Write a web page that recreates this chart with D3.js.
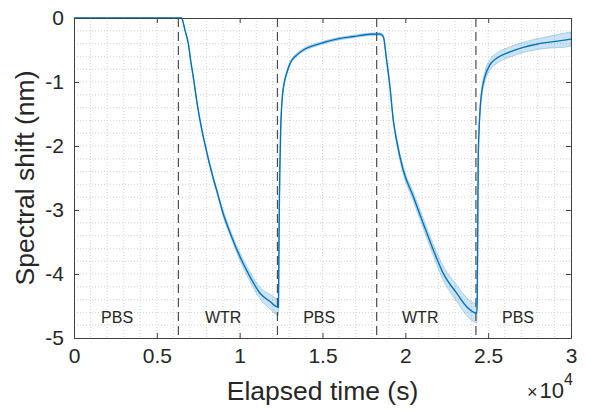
<!DOCTYPE html>
<html lang="en">
<head>
    <meta charset="UTF-8">
    <title>Spectral shift</title>
    <script src="https://d3js.org/d3.v7.min.js"></script>
    <style>
        body { margin: 0; background: #fff; }
        text { font-family: "Liberation Sans", Arial, sans-serif; fill: #262626; }
    </style>
</head>
<body>
<div id="chart"></div>
<script>
    // elapsed time (s), mean shift (nm) and half width of the shaded band (nm)
    var time = [0, 3000, 6300, 6500, 6600, 6700, 6900, 7040, 7200, 7400, 7600, 7800, 8000, 8200, 8400, 8610, 9000, 9520, 10020, 10620, 11230, 11830, 12340,
        12370, 12400, 12430, 12470, 12520, 12600, 12700, 12840, 13040, 13440, 13840, 14850, 15860, 16860, 17870, 18470,
        18670, 18870, 19070, 19270, 19470, 19870, 20480, 21080, 21690, 22290, 23100, 23700, 24310,
        24340, 24370, 24400, 24450, 24510, 24600, 24800, 25110, 25510, 26320, 27120, 27930, 28930, 29500, 30000];
    var shift = [0, 0, 0, 0, -0.08, -0.19, -0.40, -0.66, -0.92, -1.28, -1.59, -1.85, -2.08, -2.3, -2.5, -2.69, -3.05, -3.42, -3.73, -4.04, -4.30, -4.43, -4.52,
        -3.6, -2.8, -2.3, -1.8, -1.45, -1.17, -1.0, -0.86, -0.71, -0.58, -0.50, -0.40, -0.33, -0.29, -0.255, -0.25,
        -0.29, -0.66, -1.07, -1.59, -1.91, -2.375, -2.79, -3.21, -3.625, -3.99, -4.30, -4.51, -4.61,
        -4.4, -3.3, -2.2, -1.75, -1.44, -1.18, -0.92, -0.73, -0.63, -0.53, -0.46, -0.41, -0.37, -0.35, -0.33];
    var spread = [0, 0, 0, 0, 0.005, 0.008, 0.01, 0.012, 0.015, 0.018, 0.02, 0.025, 0.03, 0.033, 0.036, 0.04, 0.045, 0.05, 0.06, 0.075, 0.09, 0.115, 0.13,
        0.1, 0.07, 0.05, 0.04, 0.035, 0.03, 0.03, 0.03, 0.028, 0.025, 0.025, 0.022, 0.02, 0.02, 0.02, 0.02,
        0.02, 0.025, 0.03, 0.04, 0.05, 0.06, 0.07, 0.08, 0.09, 0.11, 0.13, 0.14, 0.15,
        0.13, 0.1, 0.07, 0.06, 0.06, 0.07, 0.08, 0.08, 0.08, 0.08, 0.08, 0.085, 0.095, 0.11, 0.11];

    // buffer changes and region names
    var switchTimes = [6300, 12280, 18270, 24260];
    var regionNames = ["PBS", "WTR", "PBS", "WTR", "PBS"];
    var regionX = [2600, 9000, 14800, 20900, 26800];

    var xTicks = [0, 5000, 10000, 15000, 20000, 25000, 30000];
    var yTicks = [0, -1, -2, -3, -4, -5];

    var data = time.map(function(t, i) { return {t: t, v: shift[i], e: spread[i]}; });

    var margin = {top: 18, right: 18, bottom: 72, left: 74},
        width = 589 - margin.left - margin.right,
        height = 410 - margin.top - margin.bottom;

    var svg = d3.select("#chart")
        .append("svg")
        .attr("width", 589)
        .attr("height", 410)
        .append("g")
        .attr("transform", "translate(" + margin.left + "," + margin.top + ")");

    var x = d3.scaleLinear().domain([0, 30000]).range([0, width]);
    var y = d3.scaleLinear().domain([-5, 0]).range([height, 0]);

    // dotted grid (minor + major)
    var grid = svg.append("g").attr("stroke", "#c8c8c8").attr("stroke-width", 0.8).attr("stroke-dasharray", "1,2");
    grid.selectAll(".gx").data(d3.range(1000, 30000, 1000)).enter().append("line")
        .attr("x1", function(d) { return x(d); }).attr("x2", function(d) { return x(d); })
        .attr("y1", 0).attr("y2", height);
    grid.selectAll(".gy").data(d3.range(-4.8, -0.1, 0.2)).enter().append("line")
        .attr("y1", function(d) { return y(d); }).attr("y2", function(d) { return y(d); })
        .attr("x1", 0).attr("x2", width);

    // shaded band
    svg.append("path")
        .datum(data)
        .attr("fill", "rgba(0,114,189,0.2)")
        .attr("stroke", "rgba(0,114,189,0.35)")
        .attr("stroke-width", 0.7)
        .attr("d", d3.area()
            .curve(d3.curveMonotoneX)
            .x(function(d) { return x(d.t); })
            .y0(function(d) { return y(d.v - d.e); })
            .y1(function(d) { return y(d.v + d.e); }));

    // buffer switch lines
    svg.selectAll(".sw").data(switchTimes).enter().append("line")
        .attr("x1", function(d) { return x(d); }).attr("x2", function(d) { return x(d); })
        .attr("y1", 0).attr("y2", height)
        .attr("stroke", "#4d4d4d").attr("stroke-width", 1.2).attr("stroke-dasharray", "9,5");

    // mean line
    svg.append("path")
        .datum(data)
        .attr("fill", "none")
        .attr("stroke", "#0072BD")
        .attr("stroke-width", 1.4)
        .attr("d", d3.line()
            .curve(d3.curveMonotoneX)
            .x(function(d) { return x(d.t); })
            .y(function(d) { return y(d.v); }));

    // region labels
    svg.selectAll(".rl").data(regionNames).enter().append("text")
        .attr("x", function(d, i) { return x(regionX[i]); })
        .attr("y", y(-4.77))
        .attr("text-anchor", "middle")
        .style("font-size", "16px")
        .text(function(d) { return d; });

    // axes
    var fmtX = function(d) { return d / 10000; };
    var fmtY = function(d) { return d === 0 ? "0" : "-" + Math.abs(d); };
    svg.append("g").attr("transform", "translate(0," + height + ")")
        .call(d3.axisBottom(x).tickValues(xTicks).tickFormat(fmtX).tickSizeInner(-5).tickSizeOuter(0).tickPadding(10));
    svg.append("g")
        .call(d3.axisTop(x).tickValues(xTicks).tickFormat("").tickSizeInner(-5).tickSizeOuter(0));
    svg.append("g")
        .call(d3.axisLeft(y).tickValues(yTicks).tickFormat(fmtY).tickSizeInner(-5).tickSizeOuter(0).tickPadding(10));
    svg.append("g").attr("transform", "translate(" + width + ",0)")
        .call(d3.axisRight(y).tickValues(yTicks).tickFormat("").tickSizeInner(-5).tickSizeOuter(0));

    svg.selectAll(".domain").attr("stroke", "#404040");
    svg.selectAll(".tick line").attr("stroke", "#404040");
    svg.selectAll(".tick text").style("font-size", "21px").attr("fill", "#262626")
        .style("font-family", "'Liberation Sans', Arial, sans-serif");

    // axis labels
    svg.append("text")
        .attr("x", width / 2).attr("y", height + 62)
        .attr("text-anchor", "middle")
        .style("font-size", "26.5px")
        .text("Elapsed time (s)");
    svg.append("text")
        .attr("transform", "translate(-40," + (height / 2) + ") rotate(-90)")
        .attr("text-anchor", "middle")
        .style("font-size", "26.5px")
        .text("Spectral shift (nm)");

    // exponent
    var ex = svg.append("text")
        .attr("x", width + 2).attr("y", height + 60)
        .attr("text-anchor", "end")
        .style("font-size", "22px");
    ex.append("tspan").style("font-size", "18px").text("\u00d7");
    ex.append("tspan").attr("dx", 2).text("10");
    ex.append("tspan").attr("dy", -13).style("font-size", "16px").text("4");
</script>
</body>
</html>
